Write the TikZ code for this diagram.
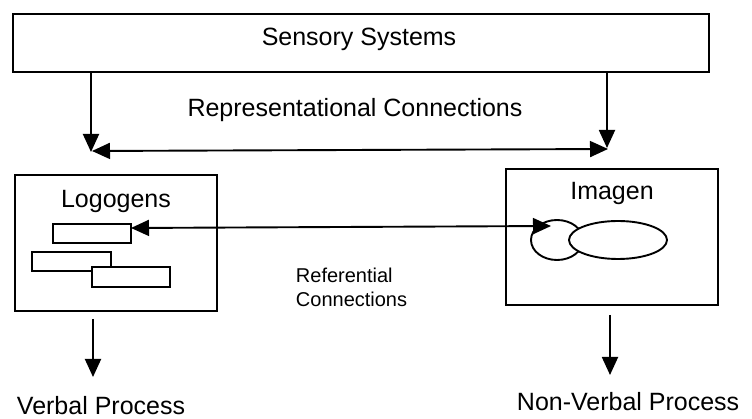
\documentclass[tikz,border=0pt]{standalone}
\usepackage{fontspec}
\setmainfont{Liberation Sans}
\usetikzlibrary{arrows.meta,shapes.geometric}
\begin{document}
\begin{tikzpicture}[x=1pt,y=-1pt,
  line width=1.9pt,
  tip/.tip={Triangle[length=18pt,width=16pt]},
  arr/.style={-tip},
  darr/.style={tip-tip},
  bigtxt/.style={font=\fontsize{25}{30}\selectfont, inner sep=0pt},
  smalltxt/.style={font=\fontsize{20}{25}\selectfont, inner sep=0pt, align=left},
  wbox/.style={draw, fill=white, inner sep=0pt}]
\useasboundingbox (0,0) rectangle (752,419);
% top box
\node[wbox, minimum width=696pt, minimum height=58pt] (sens) at (361,43) {};
\node[bigtxt] (senstxt) at (359,39) {Sensory Systems};
\node[bigtxt] (reptxt) at (355,110) {Representational Connections};
% logogens box
\node[wbox, minimum width=202pt, minimum height=136pt] (logo) at (116,243) {};
\node[bigtxt] (logotxt) at (116,201) {Logogens};
\node[wbox, minimum width=78pt, minimum height=19pt] (r1) at (92,233.5) {};
\node[wbox, minimum width=79pt, minimum height=19pt] (r2) at (71.5,261.5) {};
\node[wbox, minimum width=78pt, minimum height=20pt] (r3) at (131,277) {};
% imagen box
\node[wbox, minimum width=212pt, minimum height=136pt] (imag) at (612,237) {};
\node[bigtxt] (imagtxt) at (612,193) {Imagen};
\node[draw, ellipse, minimum width=52pt, minimum height=40pt, inner sep=0pt] (e1) at (557,240) {};
\node[draw, fill=white, ellipse, minimum width=98pt, minimum height=38pt, inner sep=0pt] (e2) at (618,240) {};
% coordinates
\coordinate (tl) at (91,72);
\coordinate (tlend) at (91,152);
\coordinate (tr) at (607,72);
\coordinate (trend) at (607,148);
\coordinate (hl) at (92,151);
\coordinate (hr) at (608,149);
\coordinate (refl) at (131,228);
\coordinate (refr) at (551,226);
\coordinate (vl) at (93,319);
\coordinate (vlend) at (93,377);
\coordinate (vr) at (610,315);
\coordinate (vrend) at (610,375);
% arrows
\draw[arr] (tl) -- (tlend);
\draw[arr] (tr) -- (trend);
\draw[darr] (hl) -- (hr);
\draw[darr] (refl) -- (refr);
\draw[arr] (vl) -- (vlend);
\draw[arr] (vr) -- (vrend);
\node[smalltxt, anchor=west] (reftxt) at (295,287) {Referential\\[-1pt]Connections};
% outputs
\node[bigtxt, anchor=west] (verb) at (16,406) {Verbal Process};
\node[bigtxt, anchor=west] (nonverb) at (516,402) {Non-Verbal Process};
\end{tikzpicture}
\end{document}
